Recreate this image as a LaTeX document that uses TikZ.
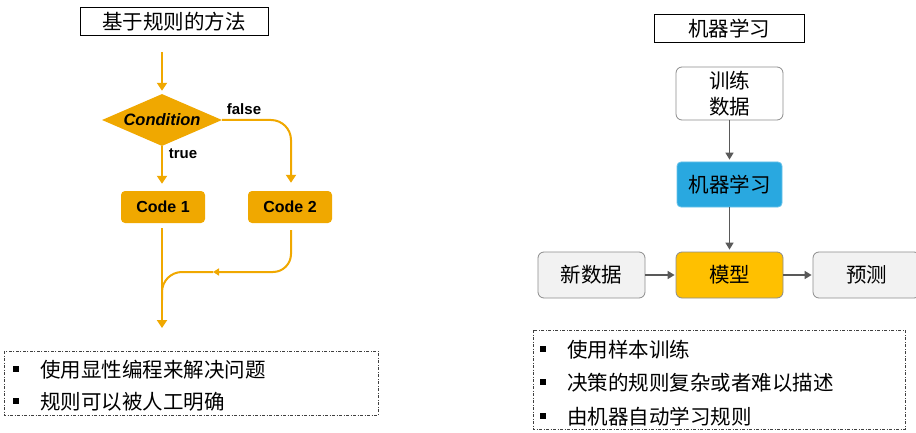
\documentclass[tikz,border=0pt]{standalone}
\usepackage{fontspec}
\setmainfont{Liberation Sans}
\newfontfamily\cjk{Noto Sans CJK SC}
\usetikzlibrary{shapes.geometric,arrows.meta}

\definecolor{codeorange}{RGB}{240,168,0}
\definecolor{modelyellow}{RGB}{255,192,0}
\definecolor{mlblue}{RGB}{41,168,224}
\definecolor{boxgray}{RGB}{242,242,242}
\definecolor{linegray}{RGB}{89,89,89}

\tikzset{
  cjktext/.style={font=\cjk\fontsize{20.5}{26}\selectfont},
  titlebox/.style={cjktext, draw=black, line width=0.8pt, inner sep=0pt, minimum height=28pt},
  codebox/.style={fill=codeorange, rounded corners=4pt, inner sep=0pt,
    minimum width=84pt, minimum height=32pt, font=\bfseries\fontsize{16}{19}\selectfont},
  condbox/.style={diamond, fill=codeorange, inner sep=0pt, aspect=2.3,
    minimum width=120pt, minimum height=52pt, font=\bfseries\itshape\fontsize{16.5}{19}\selectfont},
  branch/.style={font=\bfseries\fontsize{15}{18}\selectfont, inner sep=0pt},
  flowline/.style={draw=codeorange, line width=2pt},
  flow/.style={flowline, >={Triangle[length=8pt,width=10pt]}, ->},
  smallflow/.style={flowline, >={Triangle[length=6pt,width=7pt]}, ->},
  mlnode/.style={cjktext, rounded corners=6pt, draw=black!45, line width=0.8pt,
    minimum width=107pt, minimum height=46pt, inner sep=0pt, align=center},
  grayarrow/.style={draw=linegray, line width=1.5pt, >={Triangle[length=7pt,width=8pt]}, ->},
  notebox/.style={draw=black!75, line width=0.6pt, dash pattern=on 3pt off 1.5pt on 1pt off 1.5pt},
  bulletsq/.style={fill=black, minimum size=6pt, inner sep=0pt},
  itemtext/.style={cjktext, anchor=west, inner sep=0pt}
}

\begin{document}
\begin{tikzpicture}[x=1pt,y=-1pt]
\clip (0,0) rectangle (916,433);
\fill[white] (0,0) rectangle (916,433);

% rule based method
\node[titlebox, minimum width=188pt] (ruletitle) at (174,21.5) {基于规则的方法};
\coordinate (rulestart) at (162,52);
\node[condbox] (cond) at (162,120) {Condition};
\node[codebox] (code1) at (163,207) {Code 1};
\node[codebox] (code2) at (290,207) {Code 2};
\node[branch] (falselbl) at (244,109) {false};
\node[branch] (truelbl) at (183,154) {true};
\coordinate (merge) at (213,272);
\coordinate (join) at (162,300);
\coordinate (ruleend) at (162,328);

\draw[flow, shorten >=3pt] (rulestart) -- (cond.north);
\draw[flow, shorten >=7pt] (cond.south) -- (code1.north -| cond.south);
\draw[flow, rounded corners=20pt, shorten >=8pt] (cond.east) -| ([xshift=1pt]code2.north);
\draw[smallflow, rounded corners=18pt, shorten <=7pt] ([xshift=1pt]code2.south) |- (merge);
\draw[flowline, rounded corners=20pt] (merge) -| (join);
\draw[flow, shorten <=5pt] (code1.south -| join) -- (ruleend);

\draw[notebox] (4,351) rectangle (378,415);
\node[bulletsq] (rb1) at (16,369) {};
\node[bulletsq] (rb2) at (16,401) {};
\node[itemtext] (ri1) at (40,370) {使用显性编程来解决问题};
\node[itemtext] (ri2) at (40,402) {规则可以被人工明确};

% machine learning
\node[titlebox, minimum width=150pt] (mltitle) at (729,28.5) {机器学习};
\node[mlnode, fill=white, minimum height=53pt] (train) at (729.5,93.5) {训练\\数据};
\node[mlnode, fill=mlblue, draw=mlblue!70, rounded corners=4pt, minimum width=105pt, minimum height=45pt] (learn) at (729.5,184.5) {机器学习};
\node[mlnode, fill=modelyellow] (model) at (729.5,275) {模型};
\node[mlnode, fill=boxgray] (newdata) at (591.5,275) {新数据};
\node[mlnode, fill=boxgray] (predict) at (866.5,275) {预测};

\draw[grayarrow, shorten >=2pt] (train) -- (learn);
\draw[grayarrow, shorten >=2pt] (learn) -- (model);
\draw[grayarrow, shorten >=1pt] (newdata) -- (model);
\draw[grayarrow, shorten >=1pt] (model) -- (predict);

\draw[notebox] (533,330) rectangle (905,429);
\node[bulletsq] (mb1) at (543,349) {};
\node[bulletsq] (mb2) at (543,382) {};
\node[bulletsq] (mb3) at (543,416) {};
\node[itemtext] (mi1) at (567,350) {使用样本训练};
\node[itemtext] (mi2) at (567,383) {决策的规则复杂或者难以描述};
\node[itemtext] (mi3) at (567,417) {由机器自动学习规则};
\end{tikzpicture}
\end{document}
